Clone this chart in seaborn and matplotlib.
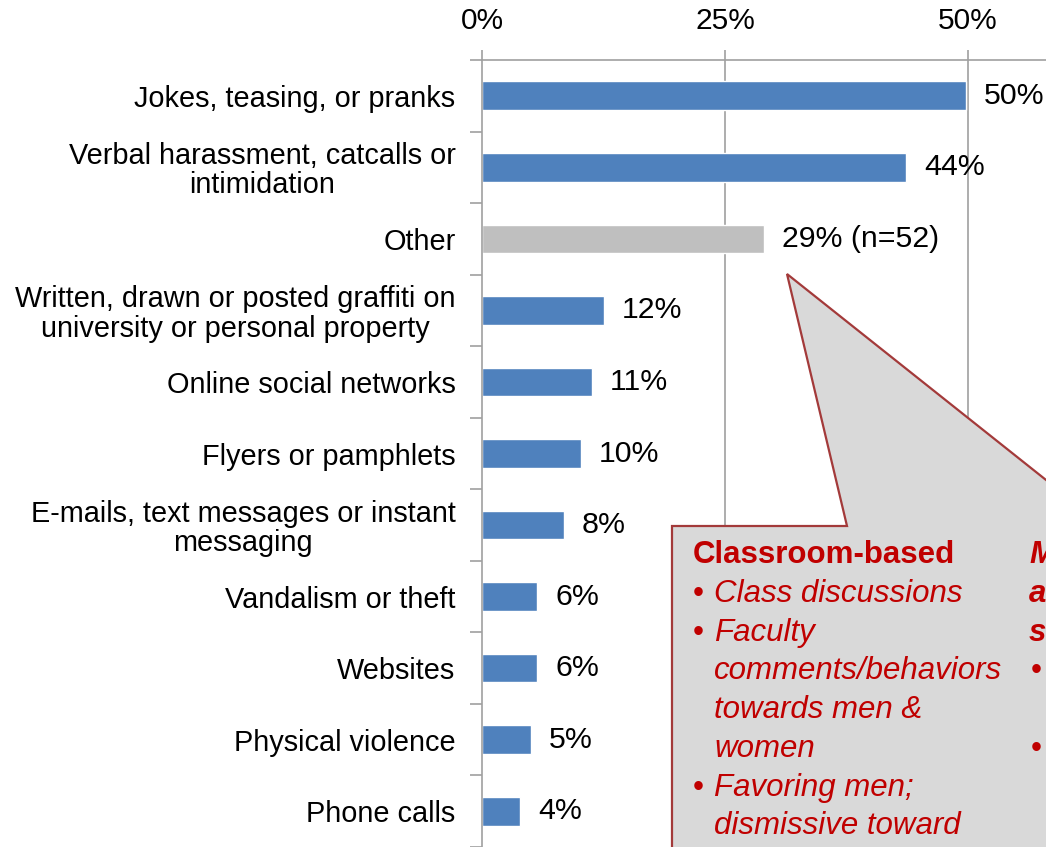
import seaborn as sns
import matplotlib.pyplot as plt
from matplotlib.patches import Polygon
from matplotlib.ticker import FixedLocator

categories = ["Jokes, teasing, or pranks",
              "Verbal harassment, catcalls or\nintimidation",
              "Other",
              "Written, drawn or posted graffiti on\nuniversity or personal property",
              "Online social networks",
              "Flyers or pamphlets",
              "E-mails, text messages or instant\nmessaging",
              "Vandalism or theft",
              "Websites",
              "Physical violence",
              "Phone calls"]
values = [49.8, 43.6, 29.0, 12.5, 11.3, 10.2, 8.4, 5.7, 5.7, 5.0, 3.9]
value_labels = ["50%", "44%", "29% (n=52)", "12%", "11%", "10%", "8%", "6%", "6%", "5%", "4%"]
bar_colors = ["#4f81bd", "#4f81bd", "#bfbfbf"] + ["#4f81bd"] * 8

sns.set_style("white")
plt.rcParams['font.family'] = ['Liberation Sans', 'DejaVu Sans']
plt.rcParams['text.color'] = 'black'
plt.rcParams['xtick.labelcolor'] = 'black'
plt.rcParams['ytick.labelcolor'] = 'black'

W, H = 1046, 847
fig = plt.figure(figsize=(W / 100, H / 100), dpi=100)
ax = fig.add_axes([482 / W, 0, 1 - 482 / W, 1 - 60 / H])

sns.barplot(x=values, y=categories, hue=categories, palette=bar_colors,
            orient="h", width=0.4, legend=False, ax=ax, saturation=1)

ax.set_xlim(0, (W - 482) / 9.72)
ax.set_ylim(len(categories) - 0.5, -0.5)
ax.set_xticks([0, 25, 50])
ax.set_xticklabels(["0%", "25%", "50%"], fontsize=21.5)
ax.xaxis.tick_top()
ax.tick_params(axis="x", length=7, width=1.2, color="#a0a0a0", pad=11, labelcolor="black")
ax.tick_params(axis="y", which="major", length=0, pad=19, labelsize=20.8, labelcolor="black")
ax.yaxis.set_minor_locator(FixedLocator([i - 0.5 for i in range(len(categories) + 1)]))
ax.tick_params(axis="y", which="minor", length=9, width=1.2, color="#a0a0a0", left=True)
for lab in ax.get_yticklabels():
    lab.set_multialignment("center")
    lab.set_linespacing(1.05)
ax.set_xlabel("")
ax.set_ylabel("")

for x in [25, 50]:
    ax.axvline(x, color="#a0a0a0", lw=1.2, zorder=0)
for side in ["right", "bottom"]:
    ax.spines[side].set_visible(False)
for side in ["left", "top"]:
    ax.spines[side].set_color("#a0a0a0")
    ax.spines[side].set_linewidth(1.2)

for i, (v, lab) in enumerate(zip(values, value_labels)):
    ax.annotate(lab, (v, i), xytext=(13, 0), textcoords="offset points",
                va="center", ha="left", fontsize=21.8, color="black")

# callout box
def fp(x, y):
    return (x / W, 1 - y / H)

pts = [fp(672, 870), fp(672, 526), fp(847, 526), fp(787, 274), fp(1075, 503), fp(1075, 870)]
fig.add_artist(Polygon(pts, closed=True, transform=fig.transFigure, facecolor="#d9d9d9",
                       edgecolor="#a33a3a", lw=1.6, zorder=5, clip_on=False))

red = "#c00000"
fig.text(*fp(693, 555), "Classroom-based", color=red, fontsize=22.5, fontweight="bold",
         va="center", ha="left", zorder=6)
lines = [(594, True, "Class discussions"),
         (633, True, "Faculty"),
         (671, False, "comments/behaviors"),
         (710, False, "towards men &"),
         (749, False, "women"),
         (788, True, "Favoring men;"),
         (826, False, "dismissive toward")]
for y, bullet, txt in lines:
    if bullet:
        fig.text(*fp(693, y), "\u2022", color=red, fontsize=22.5, va="center", ha="left", zorder=6)
    fig.text(*fp(714, y), txt, color=red, fontsize=22.5, style="italic",
             va="center", ha="left", zorder=6)

for y, txt in [(555, "M"), (594, "a"), (633, "s")]:
    fig.text(*fp(1029, y), txt, color=red, fontsize=22.5, fontweight="bold", style="italic",
             va="center", ha="left", zorder=6)
for y in [671, 749]:
    fig.text(*fp(1031, y), "\u2022", color=red, fontsize=22.5, va="center", ha="left", zorder=6)

fig.savefig("out.png", dpi=100)
